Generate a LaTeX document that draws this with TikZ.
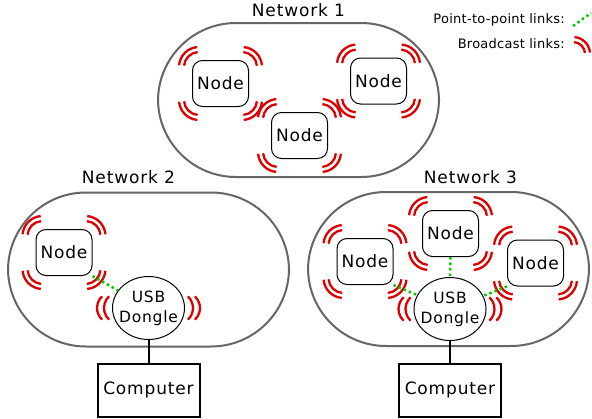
\documentclass[tikz,border=0pt]{standalone}
\usepackage{fontspec}
\setmainfont[LetterSpace=5]{DejaVu Sans}
\usetikzlibrary{calc, shapes.geometric}

\definecolor{wavered}{RGB}{221,0,0}
\definecolor{linkgreen}{RGB}{0,204,0}

\tikzset{
  network/.style={draw=black!60, line width=2, rounded corners=78,
    minimum width=281, minimum height=154},
  title/.style={font=\fontsize{17}{20}\selectfont, anchor=base},
  nodebox/.style={draw, line width=1, rounded corners=10,
    minimum width=56, minimum height=46, font=\fontsize{17}{20}\selectfont},
  dongle/.style={ellipse, draw, line width=1, minimum width=72, minimum height=63},
  donglelabel/.style={align=center, font=\fontsize{15.5}{20}\selectfont},
  computer/.style={draw, line width=2, minimum width=102, minimum height=53,
    font=\fontsize{17}{20}\selectfont},
  legend/.style={font=\fontsize{13}{16}\selectfont\addfontfeature{LetterSpace=2},
    anchor=base east, inner sep=0},
  wave/.style={wavered, line width=2.3},
  link/.style={linkgreen, line width=2.5, dash pattern=on 2.5pt off 3pt},
  cable/.style={line width=2}
}

% broadcast waves at the four corners of a node
\newcommand{\cornerwaves}[1]{%
  \foreach \anc/\dx/\dy/\ang in {north west/7/-7/90, north east/-7/-7/0,
                                 south west/7/7/180, south east/-7/7/270}
    \foreach \r in {15,20}
      \draw[wave] ($(#1.\anc)+(\dx,\dy)+({\ang+5}:\r)$)
        arc[start angle=\ang+5, end angle=\ang+85, radius=\r];
}
% broadcast waves left and right of a dongle
\newcommand{\sidewaves}[1]{%
  \foreach \anc/\dx/\ang in {west/1/180, west/8/180, east/-1/0, east/-8/0}
    \draw[wave] ($(#1.\anc)+(\dx,0)+({\ang-47}:16)$)
      arc[start angle=\ang-47, end angle=\ang+47, radius=16];
}

\begin{document}
\begin{tikzpicture}[x=1pt, y=1pt]
    \useasboundingbox (0,0) rectangle (592,-418);
    \def\yT{-183} \def\yD{-308} \def\yC{-390}

    % Network 1
    \node[network] (net1) at (298.5,-100) {};
    \node[title] (t1) at (298.5,-16) {Network 1};
    \node[nodebox] (n11) at (220.5,-83.5) {Node};
    \node[nodebox] (n12) at (299.5,-135.5) {Node};
    \node[nodebox] (n13) at (378.5,-81) {Node};
    \foreach \n in {n11,n12,n13} {\cornerwaves{\n}}

    % Network 2
    \node[network] (net2) at (148.5,-269.5) {};
    \node[title] (t2) at (128.5,\yT) {Network 2};
    \node[nodebox] (n21) at (64,-252.5) {Node};
    \cornerwaves{n21}
    \node[dongle] (d2) at (148.5,\yD) {};
    \node[donglelabel] (u2) at (d2) {USB\\Dongle};
    \sidewaves{d2}
    \draw[link] (n21.south east) -- (d2);
    \node[computer] (pc2) at (148.5,\yC) {Computer};
    \draw[cable] (d2.south) -- (pc2.north);

    % Network 3
    \node[network] (net3) at (448.5,-269) {};
    \node[title] (t3) at (470.5,\yT) {Network 3};
    \node[nodebox] (n31) at (365,-261.5) {Node};
    \node[nodebox] (n32) at (450.5,-233.5) {Node};
    \node[nodebox] (n33) at (535.5,-263) {Node};
    \foreach \n in {n31,n32,n33} {\cornerwaves{\n}}
    \node[dongle] (d3) at (450,-309) {};
    \node[donglelabel] (u3) at (d3) {USB\\Dongle};
    \sidewaves{d3}
    \draw[link] (n31.south east) -- (d3);
    \draw[link] (n32.south) -- (d3.north);
    \draw[link] (n33.south west) -- (d3);
    \node[computer] (pc3) at (450,\yC) {Computer};
    \draw[cable] (d3.south) -- (pc3.north);

    % Legend
    \node[legend] (lp) at (565,-23) {Point-to-point links:};
    \node[legend] (lb) at (565,-48) {Broadcast links:};
    \coordinate (lpa) at (573,-26);
    \coordinate (lpb) at (591,-13);
    \draw[link] (lpa) -- (lpb);
    \coordinate (lbc) at (573,-54);
    \foreach \r in {12,17}
      \draw[wave] ($(lbc)+(5:\r)$) arc[start angle=5, end angle=85, radius=\r];
\end{tikzpicture}
\end{document}
